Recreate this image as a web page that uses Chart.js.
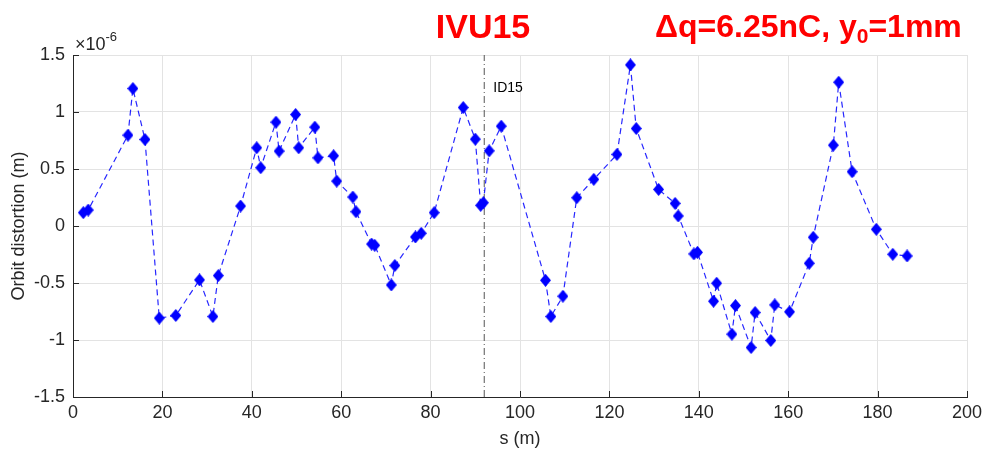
<!DOCTYPE html>
<html lang="en">
  <head>
    <meta charset="UTF-8" />
    <title>IVU15 orbit distortion</title>
    <style>
      body { margin: 0; background: #fff; }
      #wrap { width: 982px; height: 453px; }
    </style>
  </head>
  <body>
    <div id="wrap"><canvas id="myChart" width="982" height="453"></canvas></div>

    <script src="https://cdn.jsdelivr.net/npm/chart.js@4.4.1/dist/chart.umd.min.js"></script>
    <script>
      // s positions along the ring (m)
      var sPos = [2.3, 3.4, 12.3, 13.4, 16.1, 19.3, 23.0, 28.3, 31.3, 32.5,
        37.5, 41.1, 42.0, 45.4, 46.1, 49.8, 50.5, 54.1, 54.8, 58.3,
        59.0, 62.6, 63.3, 66.8, 67.5, 71.2, 72.0, 76.6, 77.9, 80.8,
        87.3, 90.0, 91.2, 91.8, 93.1, 95.8, 105.7, 106.9, 109.6, 112.7,
        116.5, 121.7, 124.7, 126.0, 131.0, 134.7, 135.4, 138.9, 139.7, 143.3,
        144.0, 147.4, 148.2, 151.7, 152.6, 156.1, 157.0, 160.3, 164.7, 165.6,
        170.1, 171.3, 174.3, 179.7, 183.4, 186.6];
      // orbit distortion, in units of 1e-6 m
      var distortion = [0.117, 0.14, 0.797, 1.206, 0.759, -0.808, -0.785, -0.473, -0.794, -0.435,
        0.175, 0.686, 0.511, 0.911, 0.657, 0.978, 0.686, 0.867, 0.598, 0.616,
        0.394, 0.254, 0.125, -0.158, -0.169, -0.517, -0.347, -0.096, -0.064, 0.117,
        1.039, 0.762, 0.181, 0.204, 0.659, 0.876, -0.476, -0.794, -0.616, 0.248,
        0.409, 0.628, 1.413, 0.855, 0.321, 0.198, 0.088, -0.245, -0.231, -0.660,
        -0.502, -0.949, -0.698, -1.066, -0.759, -1.004, -0.692, -0.753, -0.327, -0.099,
        0.709, 1.261, 0.476, -0.029, -0.248, -0.263];
      var idPosition = [92];
      var idLabel = "ID15";
      var xTicks = [0, 20, 40, 60, 80, 100, 120, 140, 160, 180, 200];
      var yTicks = [-1.5, -1, -0.5, 0, 0.5, 1, 1.5];

      var points = sPos.map(function (s, i) {
        return { x: s, y: distortion[i] };
      });
      var idLine = [
        { x: idPosition[0], y: yTicks[0] },
        { x: idPosition[0], y: yTicks[yTicks.length - 1] },
      ];

      var fontFam = "'Liberation Sans', Arial, sans-serif";

      // matlab-like diamond marker, a bit taller than wide
      function makeDiamond() {
        var c = document.createElement("canvas");
        c.width = 11;
        c.height = 13;
        var g = c.getContext("2d");
        g.fillStyle = "#0000ff";
        g.beginPath();
        g.moveTo(5.5, 0);
        g.lineTo(11, 6.5);
        g.lineTo(5.5, 13);
        g.lineTo(0, 6.5);
        g.closePath();
        g.fill();
        return c;
      }
      var diamond = makeDiamond();

      // titles, exponent, inward ticks and the ID label
      var extras = {
        id: "extras",
        afterDraw: function (chart) {
          var ctx = chart.ctx;
          var xs = chart.scales.x, ys = chart.scales.y;
          var area = chart.chartArea;
          ctx.save();

          // inward tick marks
          ctx.strokeStyle = "#262626";
          ctx.lineWidth = 1;
          ctx.beginPath();
          xTicks.forEach(function (v) {
            var px = Math.round(xs.getPixelForValue(v)) + 0.5;
            ctx.moveTo(px, area.bottom);
            ctx.lineTo(px, area.bottom - 6);
          });
          yTicks.forEach(function (v) {
            var py = Math.round(ys.getPixelForValue(v)) + 0.5;
            ctx.moveTo(area.left, py);
            ctx.lineTo(area.left + 6, py);
          });
          ctx.stroke();

          // ID label next to the dashed line
          ctx.fillStyle = "#000";
          ctx.font = "14px " + fontFam;
          ctx.textBaseline = "middle";
          ctx.textAlign = "left";
          ctx.fillText(idLabel, xs.getPixelForValue(idPosition[0]) + 9, 88);

          // x10^-6
          ctx.fillStyle = "#262626";
          ctx.font = "18px " + fontFam;
          ctx.textBaseline = "alphabetic";
          ctx.fillText("\u00d710", 75, 50);
          var w = ctx.measureText("\u00d710").width;
          ctx.font = "13px " + fontFam;
          ctx.fillText("-6", 75 + w, 41);

          // titles
          ctx.fillStyle = "#ff0000";
          ctx.font = "bold 34px " + fontFam;
          ctx.textAlign = "center";
          ctx.fillText("IVU15", 483, 38);

          ctx.textAlign = "left";
          var x0 = 655;
          ctx.font = "bold 32px " + fontFam;
          var p1 = "\u0394q=6.25nC, y";
          ctx.fillText(p1, x0, 37);
          x0 += ctx.measureText(p1).width;
          ctx.font = "bold 21px " + fontFam;
          ctx.fillText("0", x0, 43);
          x0 += ctx.measureText("0").width;
          ctx.font = "bold 32px " + fontFam;
          ctx.fillText("=1mm", x0, 37);
          ctx.restore();
        },
      };

      var ctx = document.getElementById("myChart").getContext("2d");
      var myChart = new Chart(ctx, {
        type: "scatter",
        data: {
          datasets: [
            {
              data: points,
              showLine: true,
              borderColor: "rgba(0,0,255,0.85)",
              borderWidth: 1.2,
              borderDash: [6, 4],
              backgroundColor: "#0000ff",
              pointStyle: diamond,
              pointRadius: 6,
            },
            {
              data: idLine,
              showLine: true,
              borderColor: "#555555",
              borderWidth: 1,
              borderDash: [7, 3, 1, 3],
              pointRadius: 0,
            },
          ],
        },
        options: {
          responsive: false,
          animation: false,
          events: [],
          layout: { padding: { left: 0, top: 55, right: 15, bottom: 0 } },
          plugins: { legend: { display: false }, tooltip: { enabled: false } },
          scales: {
            x: {
              type: "linear",
              min: 0,
              max: 200,
              afterFit: function (s) {
                s.height = 56;
                s.paddingLeft = 0;
                s.paddingRight = 0;
              },
              afterBuildTicks: function (s) {
                s.ticks = xTicks.map(function (v) { return { value: v }; });
              },
              grid: { color: "#e3e3e3", drawTicks: false },
              border: { color: "#262626" },
              ticks: {
                color: "#262626",
                padding: 5,
                maxRotation: 0,
                font: { family: fontFam, size: 18 },
                callback: function (v) { return String(v); },
              },
              title: {
                display: true,
                text: "s (m)",
                color: "#262626",
                padding: { top: 0, bottom: 3 },
                font: { family: fontFam, size: 18 },
              },
            },
            y: {
              type: "linear",
              min: -1.5,
              max: 1.5,
              afterFit: function (s) {
                s.width = 73;
                s.paddingTop = 0;
                s.paddingBottom = 0;
              },
              afterBuildTicks: function (s) {
                s.ticks = yTicks.map(function (v) { return { value: v }; });
              },
              grid: { color: "#e3e3e3", drawTicks: false },
              border: { color: "#262626" },
              ticks: {
                color: "#262626",
                padding: 8,
                font: { family: fontFam, size: 18 },
                callback: function (v) { return String(v); },
              },
              title: {
                display: true,
                text: "Orbit distortion (m)",
                color: "#262626",
                padding: { top: 8, bottom: 0 },
                font: { family: fontFam, size: 18 },
              },
            },
          },
        },
        plugins: [extras],
      });
    </script>
  </body>
</html>
